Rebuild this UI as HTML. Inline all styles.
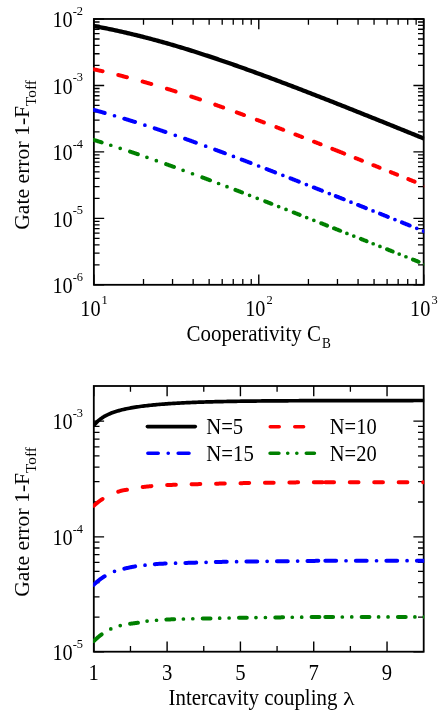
<!DOCTYPE html>
<html><head><meta charset="utf-8"><title>Gate error plots</title>
<style>
html,body{margin:0;padding:0;background:#fff;}
body{width:447px;height:716px;position:relative;overflow:hidden;font-family:"Liberation Serif",serif;}
svg text{font-family:"Liberation Serif",serif;fill:#000;}
</style></head><body>
<svg width="447" height="716" viewBox="0 0 447 716" style="position:absolute;left:0;top:0;filter:blur(0.25px)">
<rect width="447" height="716" fill="#fff"/>
<defs><clipPath id="ct"><rect x="93.17" y="18.48" width="331.03" height="266.82"/></clipPath><clipPath id="cb"><rect x="93.1" y="385.5" width="331.1" height="266.7"/></clipPath></defs>
<path d="M93.87 284.8L104.17 284.8M423.7 284.8L413.4 284.8M93.87 218.34L104.17 218.34M423.7 218.34L413.4 218.34M93.87 151.89L104.17 151.89M423.7 151.89L413.4 151.89M93.87 85.44L104.17 85.44M423.7 85.44L413.4 85.44M93.87 18.98L104.17 18.98M423.7 18.98L413.4 18.98M93.87 284.8L93.87 274.5M93.87 18.98L93.87 29.28M258.78 284.8L258.78 274.5M258.78 18.98L258.78 29.28M423.7 284.8L423.7 274.5M423.7 18.98L423.7 29.28" stroke="#000" stroke-width="1.4" fill="none"/>
<path d="M93.87 264.8L99.57 264.8M423.7 264.8L418 264.8M93.87 253.09L99.57 253.09M423.7 253.09L418 253.09M93.87 244.79L99.57 244.79M423.7 244.79L418 244.79M93.87 238.35L99.57 238.35M423.7 238.35L418 238.35M93.87 233.09L99.57 233.09M423.7 233.09L418 233.09M93.87 228.64L99.57 228.64M423.7 228.64L418 228.64M93.87 224.79L99.57 224.79M423.7 224.79L418 224.79M93.87 221.39L99.57 221.39M423.7 221.39L418 221.39M93.87 198.34L99.57 198.34M423.7 198.34L418 198.34M93.87 186.64L99.57 186.64M423.7 186.64L418 186.64M93.87 178.34L99.57 178.34M423.7 178.34L418 178.34M93.87 171.89L99.57 171.89M423.7 171.89L418 171.89M93.87 166.63L99.57 166.63M423.7 166.63L418 166.63M93.87 162.18L99.57 162.18M423.7 162.18L418 162.18M93.87 158.33L99.57 158.33M423.7 158.33L418 158.33M93.87 154.93L99.57 154.93M423.7 154.93L418 154.93M93.87 131.89L99.57 131.89M423.7 131.89L418 131.89M93.87 120.18L99.57 120.18M423.7 120.18L418 120.18M93.87 111.88L99.57 111.88M423.7 111.88L418 111.88M93.87 105.44L99.57 105.44M423.7 105.44L418 105.44M93.87 100.18L99.57 100.18M423.7 100.18L418 100.18M93.87 95.73L99.57 95.73M423.7 95.73L418 95.73M93.87 91.88L99.57 91.88M423.7 91.88L418 91.88M93.87 88.48L99.57 88.48M423.7 88.48L418 88.48M93.87 65.43L99.57 65.43M423.7 65.43L418 65.43M93.87 53.73L99.57 53.73M423.7 53.73L418 53.73M93.87 45.43L99.57 45.43M423.7 45.43L418 45.43M93.87 38.98L99.57 38.98M423.7 38.98L418 38.98M93.87 33.72L99.57 33.72M423.7 33.72L418 33.72M93.87 29.27L99.57 29.27M423.7 29.27L418 29.27M93.87 25.42L99.57 25.42M423.7 25.42L418 25.42M93.87 22.02L99.57 22.02M423.7 22.02L418 22.02M143.51 284.8L143.51 279.1M143.51 18.98L143.51 24.68M172.55 284.8L172.55 279.1M172.55 18.98L172.55 24.68M193.16 284.8L193.16 279.1M193.16 18.98L193.16 24.68M209.14 284.8L209.14 279.1M209.14 18.98L209.14 24.68M222.2 284.8L222.2 279.1M222.2 18.98L222.2 24.68M233.24 284.8L233.24 279.1M233.24 18.98L233.24 24.68M242.8 284.8L242.8 279.1M242.8 18.98L242.8 24.68M251.24 284.8L251.24 279.1M251.24 18.98L251.24 24.68M308.43 284.8L308.43 279.1M308.43 18.98L308.43 24.68M337.47 284.8L337.47 279.1M337.47 18.98L337.47 24.68M358.07 284.8L358.07 279.1M358.07 18.98L358.07 24.68M374.06 284.8L374.06 279.1M374.06 18.98L374.06 24.68M387.11 284.8L387.11 279.1M387.11 18.98L387.11 24.68M398.15 284.8L398.15 279.1M398.15 18.98L398.15 24.68M407.72 284.8L407.72 279.1M407.72 18.98L407.72 24.68M416.15 284.8L416.15 279.1M416.15 18.98L416.15 24.68" stroke="#000" stroke-width="1.3" fill="none"/>
<rect x="93.87" y="18.98" width="329.83" height="265.82" fill="none" stroke="#000" stroke-width="1.8"/>
<path d="M93.87 139.96L94 140L94.5 140.15L95 140.3L95.5 140.46L96 140.61L96.5 140.76L97 140.92L97.5 141.07L98 141.23L98.5 141.38L99 141.54L99.5 141.69L100 141.85L100.5 142L101 142.16L101.5 142.32L101.67 142.37M130.02 151.58L130.13 151.62L130.63 151.79L131.13 151.96L131.63 152.12L132.13 152.29L132.63 152.46L133.13 152.63L133.63 152.8L134.13 152.97L134.63 153.14L135.13 153.31L135.63 153.48L136.13 153.65L136.63 153.82L137.13 153.99L137.63 154.16L137.82 154.23M166.17 164.16L166.26 164.2L166.76 164.38L167.26 164.55L167.76 164.73L168.26 164.91L168.76 165.09L169.26 165.27L169.76 165.45L170.26 165.63L170.76 165.81L171.26 165.99L171.76 166.18L172.26 166.36L172.76 166.54L173.26 166.72L173.76 166.9L173.97 166.97M202.32 177.4L202.4 177.43L202.9 177.62L203.4 177.81L203.9 177.99L204.4 178.18L204.9 178.37L205.4 178.55L205.9 178.74L206.4 178.93L206.9 179.12L207.4 179.3L207.9 179.49L208.4 179.68L208.9 179.87L209.4 180.05L209.9 180.24L210.05 180.3M235.47 189.93L235.53 189.96L236.03 190.15L236.53 190.34L237.03 190.53L237.53 190.72L238.03 190.91L238.53 191.1L239.03 191.3L239.53 191.49L240.03 191.68L240.53 191.87L241.03 192.06L241.53 192.25L242.01 192.44M265.17 201.37L265.29 201.41L265.79 201.61L266.29 201.8L266.79 201.99L267.29 202.19L267.79 202.38L268.29 202.58L268.79 202.77L269.29 202.96L269.79 203.16L270.29 203.35L270.79 203.55L271.29 203.74L271.41 203.79M293.68 212.47L293.79 212.51L294.29 212.71L294.79 212.9L295.29 213.1L295.79 213.29L296.29 213.49L296.79 213.68L297.29 213.88L297.79 214.08L298.29 214.27L298.79 214.47L299.29 214.66L299.7 214.82M321.25 223.28L321.3 223.3L321.8 223.49L322.3 223.69L322.8 223.89L323.3 224.08L323.8 224.28L324.3 224.48L324.8 224.68L325.3 224.87L325.8 225.07L326.3 225.27L326.8 225.46L327.09 225.58M334.43 228.47L334.55 228.52L335.05 228.71L335.55 228.91L336.05 229.11L336.55 229.3L337.05 229.5L337.55 229.7L338.05 229.9L338.55 230.09L339.05 230.29L339.55 230.49L340.05 230.68L340.2 230.74M360.92 238.92L360.93 238.93L361.43 239.13L361.93 239.33L362.43 239.52L362.93 239.72L363.43 239.92L363.93 240.12L364.44 240.31L364.94 240.51L365.44 240.71L365.94 240.91L366.44 241.11L366.57 241.16M387.03 249.26L387.07 249.27L387.57 249.47L388.07 249.67L388.57 249.87L389.07 250.07L389.57 250.26L390.07 250.46L390.57 250.66L391.07 250.86L391.57 251.06L392.07 251.26L392.57 251.45L392.65 251.49M412.99 259.56L413.07 259.59L413.57 259.79L414.07 259.98L414.57 260.18L415.07 260.38L415.57 260.58L416.07 260.78L416.57 260.98L417.07 261.18L417.57 261.37L418.07 261.57L418.57 261.77L418.57 261.77" fill="none" stroke="#008000" stroke-width="4.0" stroke-linecap="round" stroke-linejoin="round" clip-path="url(#ct)"/>
<path d="M110.77 145.25h0.05M120.17 148.31h0.05M146.92 157.36h0.05M156.32 160.66h0.05M183.07 170.29h0.05M192.47 173.75h0.05M218.55 183.5h0.05M226.96 186.69h0.05M249.53 195.33h0.05M257.21 198.29h0.05M278.63 206.59h0.05M286.01 209.47h0.05M306.67 217.55h0.05M313.82 220.36h0.05M333.86 228.24h0.05M346.89 233.38h0.05M353.76 236.1h0.05M373.15 243.76h0.05M379.93 246.45h0.05M399.19 254.08h0.05M405.93 256.76h0.05M425.08 264.35h0.05" fill="none" stroke="#008000" stroke-width="3.7" stroke-linecap="round" clip-path="url(#ct)"/>
<path d="M93.87 109.96L94 109.99L94.5 110.13L95 110.26L95.5 110.4L96 110.53L96.5 110.67L97 110.8L97.5 110.94L98 111.08L98.5 111.22L99 111.35L99.5 111.49L100 111.63L100.5 111.77L101 111.91L101.5 112.05L102 112.18L102.5 112.32L103 112.46L103.5 112.6L104 112.75L104.5 112.89L104.67 112.93M124.27 118.68L124.38 118.71L124.88 118.87L125.38 119.02L125.88 119.17L126.38 119.32L126.88 119.48L127.38 119.63L127.88 119.78L128.38 119.94L128.88 120.09L129.38 120.25L129.88 120.4L130.38 120.56L130.88 120.71L131.38 120.87L131.88 121.02L132.38 121.18L132.88 121.33L133.38 121.49L133.88 121.65L134.38 121.8L134.88 121.96L135.07 122.02M154.67 128.36L154.76 128.39L155.26 128.56L155.76 128.72L156.26 128.89L156.76 129.06L157.26 129.22L157.76 129.39L158.26 129.56L158.76 129.72L159.26 129.89L159.76 130.06L160.26 130.23L160.76 130.4L161.26 130.56L161.76 130.73L162.26 130.9L162.76 131.07L163.26 131.24L163.76 131.41L164.26 131.58L164.76 131.75L165.26 131.92L165.47 131.99M185.07 138.79L185.14 138.81L185.64 138.99L186.14 139.17L186.64 139.34L187.14 139.52L187.64 139.7L188.14 139.88L188.64 140.05L189.14 140.23L189.64 140.41L190.14 140.59L190.64 140.76L191.14 140.94L191.64 141.12L192.14 141.3L192.64 141.48L193.14 141.66L193.64 141.84L194.14 142.02L194.64 142.2L195.14 142.37L195.64 142.55L195.87 142.63M215.1 149.64L215.15 149.65L215.65 149.84L216.15 150.02L216.65 150.21L217.15 150.39L217.65 150.58L218.15 150.76L218.65 150.95L219.15 151.13L219.65 151.32L220.15 151.5L220.65 151.69L221.15 151.87L221.65 152.06L222.15 152.24L222.65 152.43L223.15 152.61L223.65 152.8L224.15 152.99L224.65 153.17L224.88 153.26M241.67 159.56L241.78 159.6L242.28 159.79L242.78 159.98L243.28 160.17L243.78 160.36L244.28 160.55L244.78 160.74L245.28 160.93L245.78 161.12L246.28 161.31L246.78 161.5L247.28 161.69L247.78 161.88L248.28 162.07L248.78 162.26L249.28 162.45L249.78 162.64L250.28 162.83L250.59 162.95M266.5 169.04L266.54 169.05L267.04 169.25L267.54 169.44L268.04 169.63L268.54 169.82L269.04 170.02L269.54 170.21L270.04 170.4L270.54 170.6L271.04 170.79L271.54 170.98L272.04 171.17L272.54 171.37L273.04 171.56L273.54 171.75L274.04 171.95L274.54 172.14L275.04 172.33L275.11 172.36M290.49 178.33L290.54 178.35L291.04 178.55L291.54 178.74L292.04 178.94L292.54 179.13L293.04 179.33L293.54 179.52L294.04 179.72L294.54 179.91L295.04 180.11L295.54 180.3L296.04 180.5L296.54 180.69L297.04 180.89L297.54 181.08L298.04 181.28L298.54 181.48L298.85 181.6M313.82 187.46L313.92 187.5L314.42 187.7L314.92 187.9L315.42 188.09L315.92 188.29L316.42 188.49L316.92 188.68L317.42 188.88L317.92 189.08L318.42 189.27L318.92 189.47L319.42 189.67L319.92 189.86L320.42 190.06L320.92 190.26L321.42 190.45L321.92 190.65L321.96 190.67M335.8 196.13L335.93 196.18L336.43 196.37L336.93 196.57L337.43 196.77L337.93 196.97L338.43 197.17L338.93 197.36L339.43 197.56L339.93 197.76L340.43 197.96L340.93 198.15L341.43 198.35L341.93 198.55L342.43 198.75L342.93 198.95L343.43 199.14L343.78 199.28M358.1 204.96L358.18 204.99L358.68 205.19L359.18 205.39L359.68 205.59L360.18 205.79L360.68 205.99L361.18 206.19L361.68 206.39L362.18 206.58L362.68 206.78L363.18 206.98L363.68 207.18L364.18 207.38L364.69 207.58L365.19 207.78L365.69 207.98L365.92 208.07M380.08 213.7L380.19 213.75L380.69 213.95L381.19 214.15L381.69 214.34L382.19 214.54L382.69 214.74L383.19 214.94L383.69 215.14L384.19 215.34L384.69 215.54L385.19 215.74L385.69 215.94L386.19 216.14L386.69 216.34L387.19 216.54L387.69 216.74L387.86 216.81M401.96 222.43L402.07 222.47L402.57 222.67L403.07 222.87L403.57 223.07L404.07 223.27L404.57 223.47L405.07 223.67L405.57 223.87L406.07 224.07L406.57 224.27L407.07 224.47L407.57 224.67L408.07 224.87L408.57 225.07L409.07 225.27L409.57 225.47L409.7 225.52M423.72 231.13L423.82 231.17L424.32 231.37L424.82 231.57L425.32 231.77L425.82 231.97L426.32 232.17L426.7 232.32" fill="none" stroke="#0000ff" stroke-width="4.0" stroke-linecap="round" stroke-linejoin="round" clip-path="url(#ct)"/>
<path d="M114.47 115.75h0.05M144.87 125.15h0.05M175.27 135.36h0.05M205.67 146.18h0.05M233.42 156.45h0.05M258.59 166h0.05M282.84 175.36h0.05M306.37 184.54h0.05M329.29 193.55h0.05M350.96 202.13h0.05M373.01 210.89h0.05M394.92 219.62h0.05M416.72 228.33h0.05" fill="none" stroke="#0000ff" stroke-width="3.7" stroke-linecap="round" clip-path="url(#ct)"/>
<path d="M93.87 69.34L94 69.37L94.5 69.48L95 69.59L95.5 69.69L96 69.8L96.5 69.91L97 70.03L97.5 70.14L98 70.25L98.5 70.36L99 70.47L99.5 70.58L100 70.7L100.5 70.81L101 70.92L101.5 71.04L102 71.15L102.5 71.26L102.57 71.28M118.22 75.04L118.25 75.04L118.75 75.17L119.25 75.3L119.75 75.42L120.25 75.55L120.75 75.68L121.25 75.8L121.75 75.93L122.25 76.06L122.75 76.19L123.25 76.31L123.75 76.44L124.25 76.57L124.75 76.7L125.25 76.83L125.75 76.96L126.25 77.09L126.75 77.22L126.92 77.27M142.57 81.53L142.63 81.54L143.13 81.68L143.63 81.83L144.13 81.97L144.63 82.11L145.13 82.25L145.63 82.39L146.13 82.54L146.63 82.68L147.13 82.82L147.63 82.97L148.13 83.11L148.63 83.26L149.13 83.4L149.63 83.55L150.13 83.69L150.63 83.84L151.13 83.98L151.27 84.02M166.92 88.73L167.01 88.76L167.51 88.91L168.01 89.07L168.51 89.22L169.01 89.38L169.51 89.53L170.01 89.69L170.51 89.84L171.01 90L171.51 90.16L172.01 90.31L172.51 90.47L173.01 90.63L173.51 90.79L174.01 90.94L174.51 91.1L175.01 91.26L175.51 91.42L175.62 91.45M191.27 96.54L191.39 96.58L191.89 96.75L192.39 96.91L192.89 97.08L193.39 97.25L193.89 97.41L194.39 97.58L194.89 97.75L195.39 97.92L195.89 98.08L196.39 98.25L196.89 98.42L197.39 98.59L197.9 98.76L198.4 98.93L198.9 99.1L199.4 99.27L199.9 99.43L199.97 99.46M215.24 104.72L215.27 104.74L215.77 104.91L216.27 105.09L216.77 105.26L217.27 105.44L217.77 105.61L218.27 105.79L218.78 105.97L219.28 106.14L219.78 106.32L220.28 106.5L220.78 106.67L221.28 106.85L221.78 107.03L222.28 107.2L222.78 107.38L223.15 107.51M236.74 112.4L236.78 112.41L237.28 112.59L237.78 112.78L238.28 112.96L238.78 113.14L239.28 113.32L239.78 113.5L240.28 113.69L240.78 113.87L241.28 114.05L241.78 114.24L242.28 114.42L242.78 114.6L243.28 114.79L243.78 114.97L244 115.05M256.84 119.8L256.91 119.83L257.41 120.01L257.91 120.2L258.41 120.39L258.91 120.57L259.41 120.76L259.91 120.95L260.41 121.13L260.91 121.32L261.41 121.51L261.91 121.7L262.41 121.88L262.91 122.07L263.41 122.26L263.88 122.44M276.38 127.16L276.41 127.17L276.91 127.36L277.41 127.55L277.91 127.75L278.41 127.94L278.91 128.13L279.41 128.32L279.91 128.51L280.41 128.7L280.91 128.89L281.42 129.08L281.92 129.27L282.42 129.46L282.92 129.65L283.23 129.77M295.42 134.46L295.54 134.51L296.04 134.7L296.54 134.89L297.04 135.09L297.54 135.28L298.04 135.47L298.54 135.67L299.04 135.86L299.54 136.05L300.04 136.25L300.54 136.44L301.04 136.64L301.54 136.83L302.05 137.02L302.12 137.05M314.05 141.7L314.05 141.7L314.55 141.89L315.05 142.09L315.55 142.28L316.05 142.48L316.55 142.67L317.05 142.87L317.55 143.06L318.05 143.26L318.55 143.46L319.05 143.65L319.55 143.85L320.05 144.04L320.55 144.24L320.61 144.26M332.3 148.86L332.43 148.91L332.93 149.1L333.43 149.3L333.93 149.5L334.43 149.7L334.93 149.89L335.43 150.09L335.93 150.29L336.43 150.48L336.93 150.68L337.43 150.88L337.68 150.98M337.8 151.03L337.93 151.08L338.43 151.27L338.93 151.47L339.43 151.67L339.93 151.87L340.43 152.06L340.93 152.26L341.43 152.46L341.93 152.66L342.43 152.86L342.93 153.05L343.43 153.25L343.93 153.45L344.22 153.56M355.66 158.1L355.68 158.11L356.18 158.31L356.68 158.51L357.18 158.71L357.68 158.91L358.18 159.1L358.68 159.3L359.18 159.5L359.68 159.7L360.18 159.9L360.68 160.1L361.18 160.3L361.68 160.5L361.98 160.61M373.3 165.13L373.31 165.13L373.81 165.33L374.31 165.53L374.81 165.73L375.31 165.93L375.81 166.13L376.31 166.33L376.81 166.53L377.31 166.73L377.81 166.93L378.31 167.13L378.81 167.33L379.31 167.53L379.58 167.64M390.85 172.15L390.94 172.19L391.44 172.39L391.94 172.59L392.44 172.79L392.94 172.99L393.44 173.19L393.94 173.39L394.44 173.59L394.94 173.79L395.44 173.99L395.94 174.19L396.44 174.39L396.94 174.59L397.11 174.66M408.34 179.17L408.45 179.21L408.95 179.41L409.45 179.61L409.95 179.82L410.45 180.02L410.95 180.22L411.45 180.42L411.95 180.62L412.45 180.82L412.95 181.02L413.45 181.22L413.95 181.42L414.45 181.63L414.57 181.68M425.76 186.18L425.82 186.21L426.32 186.41L426.7 186.56" fill="none" stroke="#ff0000" stroke-width="4.0" stroke-linecap="round" stroke-linejoin="round" clip-path="url(#ct)"/>
<path d="M92.87 25.83L94.37 26.11L95.87 26.39L97.37 26.68L98.88 26.96L100.38 27.26L101.88 27.55L103.38 27.85L104.88 28.15L106.38 28.45L107.88 28.76L109.39 29.07L110.89 29.38L112.39 29.7L113.89 30.02L115.39 30.34L116.89 30.67L118.4 31L119.9 31.33L121.4 31.67L122.9 32L124.4 32.35L125.9 32.69L127.4 33.04L128.91 33.39L130.41 33.75L131.91 34.11L133.41 34.47L134.91 34.83L136.41 35.2L137.91 35.57L139.42 35.94L140.92 36.32L142.42 36.7L143.92 37.08L145.42 37.47L146.92 37.86L148.43 38.25L149.93 38.65L151.43 39.04L152.93 39.45L154.43 39.85L155.93 40.26L157.43 40.67L158.94 41.08L160.44 41.49L161.94 41.91L163.44 42.33L164.94 42.76L166.44 43.18L167.94 43.61L169.45 44.04L170.95 44.48L172.45 44.92L173.95 45.36L175.45 45.8L176.95 46.25L178.46 46.69L179.96 47.14L181.46 47.6L182.96 48.05L184.46 48.51L185.96 48.97L187.46 49.43L188.97 49.9L190.47 50.37L191.97 50.84L193.47 51.31L194.97 51.78L196.47 52.26L197.97 52.74L199.48 53.22L200.98 53.7L202.48 54.19L203.98 54.68L205.48 55.17L206.98 55.66L208.48 56.15L209.99 56.65L211.49 57.15L212.99 57.65L214.49 58.15L215.99 58.66L217.49 59.16L219 59.67L220.5 60.18L222 60.69L223.5 61.2L225 61.72L226.5 62.24L228 62.76L229.51 63.28L231.01 63.8L232.51 64.32L234.01 64.85L235.51 65.37L237.01 65.9L238.51 66.43L240.02 66.97L241.52 67.5L243.02 68.03L244.52 68.57L246.02 69.11L247.52 69.65L249.03 70.19L250.53 70.73L252.03 71.27L253.53 71.82L255.03 72.36L256.53 72.91L258.03 73.46L259.54 74.01L261.04 74.56L262.54 75.11L264.04 75.67L265.54 76.22L267.04 76.78L268.54 77.33L270.05 77.89L271.55 78.45L273.05 79.01L274.55 79.57L276.05 80.13L277.55 80.7L279.06 81.26L280.56 81.83L282.06 82.39L283.56 82.96L285.06 83.53L286.56 84.1L288.06 84.67L289.57 85.24L291.07 85.81L292.57 86.38L294.07 86.96L295.57 87.53L297.07 88.11L298.57 88.68L300.08 89.26L301.58 89.84L303.08 90.42L304.58 91L306.08 91.58L307.58 92.16L309.09 92.74L310.59 93.32L312.09 93.9L313.59 94.49L315.09 95.07L316.59 95.65L318.09 96.24L319.6 96.82L321.1 97.41L322.6 98L324.1 98.59L325.6 99.17L327.1 99.76L328.6 100.35L330.11 100.94L331.61 101.53L333.11 102.12L334.61 102.71L336.11 103.31L337.61 103.9L339.11 104.49L340.62 105.09L342.12 105.68L343.62 106.27L345.12 106.87L346.62 107.46L348.12 108.06L349.63 108.65L351.13 109.25L352.63 109.85L354.13 110.45L355.63 111.04L357.13 111.64L358.63 112.24L360.14 112.84L361.64 113.44L363.14 114.04L364.64 114.64L366.14 115.24L367.64 115.84L369.14 116.44L370.65 117.04L372.15 117.64L373.65 118.24L375.15 118.84L376.65 119.45L378.15 120.05L379.66 120.65L381.16 121.25L382.66 121.86L384.16 122.46L385.66 123.07L387.16 123.67L388.66 124.27L390.17 124.88L391.67 125.48L393.17 126.09L394.67 126.7L396.17 127.3L397.67 127.91L399.17 128.51L400.68 129.12L402.18 129.73L403.68 130.33L405.18 130.94L406.68 131.55L408.18 132.15L409.69 132.76L411.19 133.37L412.69 133.98L414.19 134.58L415.69 135.19L417.19 135.8L418.69 136.41L420.2 137.02L421.7 137.63L423.2 138.24L424.7 138.85" fill="none" stroke="#000000" stroke-width="4.3" stroke-linejoin="round" clip-path="url(#ct)"/>
<text transform="translate(52.4,293.15) scale(0.905,1)" font-size="22.4" text-anchor="start">10</text>
<text transform="translate(72.7,280.65) scale(0.95,1)" font-size="13.1" text-anchor="start">-6</text>
<text transform="translate(52.4,226.69) scale(0.905,1)" font-size="22.4" text-anchor="start">10</text>
<text transform="translate(72.7,214.19) scale(0.95,1)" font-size="13.1" text-anchor="start">-5</text>
<text transform="translate(52.4,160.24) scale(0.905,1)" font-size="22.4" text-anchor="start">10</text>
<text transform="translate(72.7,147.74) scale(0.95,1)" font-size="13.1" text-anchor="start">-4</text>
<text transform="translate(52.4,93.78) scale(0.905,1)" font-size="22.4" text-anchor="start">10</text>
<text transform="translate(72.7,81.28) scale(0.95,1)" font-size="13.1" text-anchor="start">-3</text>
<text transform="translate(52.4,27.33) scale(0.905,1)" font-size="22.4" text-anchor="start">10</text>
<text transform="translate(72.7,14.83) scale(0.95,1)" font-size="13.1" text-anchor="start">-2</text>
<text transform="translate(80.27,316.2) scale(0.905,1)" font-size="22.4" text-anchor="start">10</text>
<text transform="translate(101.57,304.4) scale(0.95,1)" font-size="13.1" text-anchor="start">1</text>
<text transform="translate(245.18,316.2) scale(0.905,1)" font-size="22.4" text-anchor="start">10</text>
<text transform="translate(266.48,304.4) scale(0.95,1)" font-size="13.1" text-anchor="start">2</text>
<text transform="translate(410.1,316.2) scale(0.905,1)" font-size="22.4" text-anchor="start">10</text>
<text transform="translate(431.4,304.4) scale(0.95,1)" font-size="13.1" text-anchor="start">3</text>
<text transform="translate(186.5,340.6) scale(0.944,1)" font-size="22.2" text-anchor="start">Cooperativity C</text>
<text transform="translate(322,347.8) scale(0.95,1)" font-size="14.0" text-anchor="start">B</text>
<text transform="translate(28.5,229.8) rotate(-90) scale(0.986,1)" font-size="22.0" text-anchor="start">Gate error 1-F</text>
<text transform="translate(36.3,105.9) rotate(-90) scale(1.0,1)" font-size="15.2" text-anchor="start">Toff</text>
<path d="M93.8 651.7L104.1 651.7M423.7 651.7L413.4 651.7M93.8 536.85L104.1 536.85M423.7 536.85L413.4 536.85M93.8 421.1L104.1 421.1M423.7 421.1L413.4 421.1M93.8 651.7L93.8 641.4M93.8 386L93.8 396.3M167.11 651.7L167.11 641.4M167.11 386L167.11 396.3M240.42 651.7L240.42 641.4M240.42 386L240.42 396.3M313.73 651.7L313.73 641.4M313.73 386L313.73 396.3M387.04 651.7L387.04 641.4M387.04 386L387.04 396.3" stroke="#000" stroke-width="1.4" fill="none"/>
<path d="M93.8 617.13L99.5 617.13M423.7 617.13L418 617.13M93.8 596.9L99.5 596.9M423.7 596.9L418 596.9M93.8 582.55L99.5 582.55M423.7 582.55L418 582.55M93.8 571.42L99.5 571.42M423.7 571.42L418 571.42M93.8 562.33L99.5 562.33M423.7 562.33L418 562.33M93.8 554.64L99.5 554.64M423.7 554.64L418 554.64M93.8 547.98L99.5 547.98M423.7 547.98L418 547.98M93.8 542.11L99.5 542.11M423.7 542.11L418 542.11M93.8 502.01L99.5 502.01M423.7 502.01L418 502.01M93.8 481.62L99.5 481.62M423.7 481.62L418 481.62M93.8 467.16L99.5 467.16M423.7 467.16L418 467.16M93.8 455.94L99.5 455.94M423.7 455.94L418 455.94M93.8 446.78L99.5 446.78M423.7 446.78L418 446.78M93.8 439.03L99.5 439.03M423.7 439.03L418 439.03M93.8 432.32L99.5 432.32M423.7 432.32L418 432.32M93.8 426.4L99.5 426.4M423.7 426.4L418 426.4M130.46 651.7L130.46 646M130.46 386L130.46 391.7M203.77 651.7L203.77 646M203.77 386L203.77 391.7M277.08 651.7L277.08 646M277.08 386L277.08 391.7M350.39 651.7L350.39 646M350.39 386L350.39 391.7" stroke="#000" stroke-width="1.3" fill="none"/>
<rect x="93.8" y="386" width="329.9" height="265.7" fill="none" stroke="#000" stroke-width="1.8"/>
<path d="M93.8 641L93.93 640.89L94.43 640.44L94.93 639.99L95.43 639.55L95.93 639.11L96.43 638.67L96.93 638.22L97.43 637.78L97.93 637.33L98.43 636.9L98.93 636.47L99.43 636.06L99.93 635.67L100.43 635.28L100.93 634.91L101.43 634.54L101.63 634.4M130.09 623.79L130.18 623.78L130.68 623.71L131.18 623.64L131.68 623.57L132.18 623.5L132.68 623.43L133.18 623.37L133.68 623.3L134.18 623.24L134.68 623.17L135.18 623.1L135.68 623.04L136.18 622.97L136.68 622.9L137.18 622.83L137.68 622.75L137.93 622.72M166.39 619.58L166.43 619.57L166.93 619.55L167.43 619.52L167.93 619.49L168.43 619.47L168.93 619.44L169.43 619.42L169.93 619.4L170.43 619.38L170.93 619.36L171.43 619.35L171.93 619.33L172.43 619.31L172.93 619.29L173.43 619.27L173.93 619.26L174.22 619.25M202.68 618.57L202.81 618.57L203.31 618.56L203.81 618.54L204.31 618.53L204.81 618.52L205.31 618.51L205.81 618.5L206.31 618.49L206.81 618.48L207.31 618.47L207.81 618.46L208.31 618.45L208.81 618.44L209.31 618.43L209.81 618.41L210.31 618.4L210.51 618.4M238.98 617.84L239.06 617.84L239.56 617.84L240.06 617.83L240.56 617.82L241.06 617.81L241.56 617.81L242.06 617.8L242.56 617.79L243.06 617.79L243.56 617.78L244.06 617.77L244.56 617.76L245.06 617.76L245.56 617.75L246.06 617.74L246.56 617.74L246.81 617.74M275.27 617.43L275.31 617.43L275.81 617.42L276.31 617.42L276.81 617.41L277.31 617.41L277.81 617.41L278.31 617.4L278.81 617.4L279.31 617.39L279.81 617.39L280.31 617.38L280.81 617.38L281.31 617.37L281.81 617.37L282.31 617.36L282.81 617.36L283.1 617.36M311.57 617.09L311.69 617.09L312.19 617.09L312.69 617.08L313.19 617.08L313.69 617.08L314.19 617.07L314.69 617.07L315.19 617.07L315.69 617.06L316.19 617.06L316.69 617.06L317.19 617.05L317.69 617.05L318.19 617.05L318.69 617.05L319.19 617.04L319.4 617.04M325.32 617.01L325.44 617.01L325.94 617.01L326.44 617.01L326.94 617.01L327.44 617.01L327.94 617L328.44 617L328.94 617L329.44 617L329.94 617L330.44 617L330.94 617L331.44 617L331.94 617L332.44 617L332.94 616.99L333.15 616.99M361.61 616.95L361.7 616.95L362.2 616.94L362.7 616.94L363.2 616.94L363.7 616.94L364.2 616.94L364.7 616.94L365.2 616.94L365.7 616.94L366.2 616.94L366.7 616.94L367.2 616.94L367.7 616.94L368.2 616.94L368.7 616.94L369.2 616.94L369.44 616.93M397.91 616.91L397.95 616.91L398.45 616.91L398.95 616.91L399.45 616.91L399.95 616.91L400.45 616.91L400.95 616.91L401.45 616.91L401.95 616.91L402.45 616.91L402.95 616.91L403.45 616.91L403.95 616.9L404.45 616.9L404.95 616.9L405.45 616.9L405.74 616.9" fill="none" stroke="#008000" stroke-width="4.0" stroke-linecap="round" stroke-linejoin="round" clip-path="url(#cb)"/>
<path d="M110.77 628.97h0.05M120.21 625.6h0.05M147.06 621.06h0.05M156.5 620.27h0.05M183.36 618.98h0.05M192.79 618.77h0.05M219.65 618.2h0.05M229.09 618.01h0.05M255.95 617.62h0.05M265.38 617.52h0.05M292.24 617.27h0.05M301.68 617.18h0.05M342.28 616.98h0.05M351.72 616.96h0.05M378.58 616.92h0.05M388.02 616.92h0.05M414.87 616.9h0.05M424.31 616.9h0.05" fill="none" stroke="#008000" stroke-width="3.7" stroke-linecap="round" clip-path="url(#cb)"/>
<path d="M93.8 584.7L93.93 584.58L94.43 584.11L94.93 583.64L95.43 583.18L95.93 582.73L96.43 582.29L96.93 581.86L97.43 581.44L97.93 581.02L98.43 580.62L98.93 580.22L99.43 579.83L99.93 579.45L100.43 579.09L100.93 578.73L101.43 578.38L101.93 578.03L102.43 577.68L102.93 577.35L103.43 577.01L103.93 576.69L104.43 576.37L104.64 576.24M124.32 568.66L124.43 568.64L124.93 568.52L125.43 568.4L125.93 568.29L126.43 568.17L126.93 568.05L127.43 567.94L127.93 567.83L128.43 567.72L128.93 567.61L129.43 567.5L129.93 567.39L130.43 567.29L130.93 567.18L131.43 567.08L131.93 566.98L132.43 566.88L132.93 566.79L133.43 566.7L133.93 566.6L134.43 566.52L134.93 566.43L135.16 566.39M154.84 564.19L154.93 564.18L155.43 564.14L155.93 564.09L156.43 564.04L156.93 564L157.43 563.96L157.93 563.92L158.43 563.88L158.93 563.85L159.43 563.82L159.93 563.79L160.43 563.77L160.93 563.74L161.43 563.72L161.93 563.69L162.43 563.67L162.93 563.65L163.43 563.63L163.93 563.6L164.43 563.58L164.93 563.56L165.43 563.54L165.69 563.53M185.36 562.94L185.43 562.94L185.93 562.92L186.43 562.91L186.93 562.9L187.43 562.88L187.93 562.87L188.43 562.85L188.93 562.84L189.43 562.82L189.93 562.81L190.43 562.79L190.93 562.78L191.43 562.76L191.93 562.75L192.43 562.73L192.93 562.71L193.43 562.7L193.93 562.68L194.43 562.66L194.93 562.65L195.43 562.63L195.93 562.62L196.21 562.61M215.89 562.01L215.93 562L216.43 561.99L216.93 561.98L217.43 561.97L217.93 561.96L218.43 561.95L218.93 561.94L219.43 561.93L219.93 561.92L220.43 561.91L220.93 561.9L221.43 561.89L221.93 561.88L222.43 561.87L222.93 561.86L223.43 561.85L223.93 561.84L224.43 561.84L224.93 561.83L225.43 561.82L225.93 561.81L226.43 561.8L226.73 561.8M246.41 561.55L246.44 561.55L246.94 561.54L247.44 561.54L247.94 561.53L248.44 561.52L248.94 561.52L249.44 561.51L249.94 561.51L250.44 561.5L250.94 561.5L251.44 561.49L251.94 561.48L252.44 561.48L252.94 561.47L253.44 561.47L253.94 561.46L254.44 561.46L254.94 561.45L255.44 561.45L255.94 561.44L256.44 561.44L256.94 561.43L257.25 561.43M276.93 561.24L276.94 561.24L277.44 561.23L277.94 561.23L278.44 561.22L278.94 561.22L279.44 561.21L279.94 561.21L280.44 561.21L280.94 561.2L281.44 561.2L281.94 561.19L282.44 561.19L282.94 561.18L283.44 561.18L283.94 561.17L284.44 561.17L284.94 561.16L285.44 561.16L285.94 561.15L286.44 561.15L286.94 561.14L287.44 561.14L287.77 561.14M307.45 560.94L307.57 560.94L308.07 560.93L308.57 560.93L309.07 560.92L309.57 560.92L310.07 560.92L310.57 560.91L311.07 560.91L311.57 560.9L312.07 560.9L312.57 560.89L313.07 560.89L313.57 560.89L314.07 560.88L314.57 560.88L315.07 560.88L315.57 560.87L316.07 560.87L316.57 560.86L317.07 560.86L317.57 560.86L318.07 560.85L318.29 560.85M325.32 560.81L325.44 560.81L325.94 560.81L326.44 560.81L326.94 560.81L327.44 560.81L327.94 560.81L328.44 560.8L328.94 560.8L329.44 560.8L329.94 560.8L330.44 560.8L330.94 560.8L331.44 560.8L331.94 560.8L332.44 560.8L332.94 560.79L333.44 560.79L333.94 560.79L334.44 560.79L334.94 560.79L335.44 560.79L335.94 560.79L336.16 560.79M355.84 560.75L355.94 560.75L356.44 560.75L356.94 560.75L357.44 560.75L357.94 560.75L358.44 560.75L358.94 560.75L359.44 560.75L359.94 560.75L360.45 560.75L360.95 560.75L361.45 560.75L361.95 560.74L362.45 560.74L362.95 560.74L363.45 560.74L363.95 560.74L364.45 560.74L364.95 560.74L365.45 560.74L365.95 560.74L366.45 560.74L366.68 560.74M386.36 560.72L386.45 560.72L386.95 560.72L387.45 560.72L387.95 560.72L388.45 560.71L388.95 560.71L389.45 560.71L389.95 560.71L390.45 560.71L390.95 560.71L391.45 560.71L391.95 560.71L392.45 560.71L392.95 560.71L393.45 560.71L393.95 560.71L394.45 560.71L394.95 560.71L395.45 560.71L395.95 560.71L396.45 560.71L396.95 560.71L397.2 560.71M416.88 560.7L416.95 560.7L417.45 560.7L417.95 560.7L418.45 560.7L418.95 560.7L419.45 560.7L419.95 560.7L420.45 560.7L420.95 560.7L421.45 560.7L421.95 560.7L422.45 560.7L422.95 560.7L423.45 560.7L423.95 560.7L424.45 560.7L424.95 560.7L425.45 560.7L425.95 560.7L426.45 560.7L426.7 560.7" fill="none" stroke="#0000ff" stroke-width="4.0" stroke-linecap="round" stroke-linejoin="round" clip-path="url(#cb)"/>
<path d="M114.48 571.34h0.05M145 565.15h0.05M175.53 563.21h0.05M206.05 562.28h0.05M236.57 561.66h0.05M267.09 561.33h0.05M297.61 561.04h0.05M346 560.77h0.05M376.52 560.73h0.05M407.04 560.7h0.05" fill="none" stroke="#0000ff" stroke-width="3.7" stroke-linecap="round" clip-path="url(#cb)"/>
<path d="M93.8 505.7L93.93 505.59L94.43 505.15L94.93 504.72L95.43 504.29L95.93 503.87L96.43 503.46L96.93 503.05L97.43 502.66L97.93 502.27L98.43 501.88L98.93 501.5L99.43 501.12L99.93 500.75L100.43 500.39L100.93 500.05L101.43 499.71L101.93 499.39L102.43 499.07L102.53 499M118.25 491.72L118.3 491.7L118.8 491.53L119.3 491.37L119.8 491.2L120.3 491.04L120.8 490.89L121.3 490.74L121.8 490.61L122.3 490.49L122.8 490.38L123.3 490.29L123.8 490.2L124.3 490.12L124.8 490.05L125.3 489.98L125.8 489.91L126.3 489.85L126.8 489.78L126.98 489.76M142.69 487.06L142.8 487.05L143.3 486.99L143.8 486.93L144.3 486.87L144.8 486.81L145.3 486.75L145.8 486.69L146.3 486.63L146.8 486.58L147.3 486.53L147.8 486.47L148.3 486.42L148.8 486.37L149.3 486.32L149.8 486.28L150.3 486.23L150.8 486.18L151.3 486.14L151.43 486.13M167.14 485.1L167.18 485.1L167.68 485.07L168.18 485.05L168.68 485.02L169.18 485L169.68 484.98L170.18 484.96L170.68 484.94L171.18 484.92L171.68 484.9L172.18 484.88L172.68 484.86L173.18 484.84L173.68 484.82L174.18 484.8L174.68 484.79L175.18 484.77L175.68 484.75L175.88 484.74M191.59 484.31L191.68 484.3L192.18 484.29L192.68 484.28L193.18 484.27L193.68 484.25L194.18 484.24L194.68 484.23L195.18 484.21L195.68 484.2L196.18 484.19L196.68 484.17L197.18 484.16L197.68 484.15L198.18 484.13L198.68 484.12L199.18 484.11L199.68 484.09L200.18 484.08L200.32 484.08M216.04 483.69L216.06 483.69L216.56 483.68L217.06 483.67L217.56 483.66L218.06 483.64L218.56 483.63L219.06 483.62L219.56 483.61L220.06 483.6L220.56 483.59L221.06 483.58L221.56 483.57L222.06 483.55L222.56 483.54L223.06 483.53L223.56 483.52L224.06 483.51L224.56 483.5L224.77 483.49M240.48 483.17L240.56 483.17L241.06 483.16L241.56 483.15L242.06 483.14L242.56 483.13L243.06 483.12L243.56 483.12L244.06 483.11L244.56 483.1L245.06 483.09L245.56 483.08L246.06 483.07L246.56 483.06L247.06 483.05L247.56 483.04L248.06 483.03L248.56 483.02L249.06 483.02L249.22 483.01M264.93 482.75L264.94 482.75L265.44 482.75L265.94 482.74L266.44 482.73L266.94 482.72L267.44 482.72L267.94 482.71L268.44 482.7L268.94 482.7L269.44 482.69L269.94 482.68L270.44 482.67L270.94 482.67L271.44 482.66L271.94 482.65L272.44 482.65L272.94 482.64L273.44 482.63L273.67 482.63M289.38 482.43L289.44 482.43L289.94 482.42L290.44 482.42L290.94 482.42L291.44 482.41L291.94 482.41L292.44 482.4L292.94 482.4L293.44 482.4L293.94 482.39L294.44 482.39L294.94 482.38L295.44 482.38L295.94 482.38L296.44 482.37L296.94 482.37L297.44 482.36L297.94 482.36L298.11 482.36M313.83 482.25L313.94 482.25L314.44 482.25L314.94 482.24L315.44 482.24L315.94 482.24L316.44 482.24L316.94 482.23L317.44 482.23L317.94 482.23L318.44 482.23L318.94 482.22L319.44 482.22L319.94 482.22L320.44 482.22L320.94 482.22L321.44 482.22L321.94 482.21L322.44 482.21L322.56 482.21M325.32 482.2L325.44 482.2L325.94 482.2L326.44 482.2L326.94 482.2L327.44 482.2L327.94 482.2L328.44 482.2L328.94 482.2L329.44 482.2L329.94 482.2L330.44 482.2L330.94 482.2L331.44 482.2L331.94 482.2L332.44 482.2L332.94 482.2L333.44 482.2L333.94 482.2L334.05 482.2M349.76 482.2L349.82 482.2L350.32 482.2L350.82 482.2L351.32 482.2L351.82 482.2L352.32 482.2L352.82 482.2L353.32 482.2L353.82 482.2L354.32 482.2L354.82 482.2L355.32 482.2L355.82 482.2L356.32 482.2L356.82 482.2L357.32 482.2L357.82 482.2L358.32 482.2L358.5 482.2M374.21 482.2L374.32 482.2L374.82 482.2L375.32 482.2L375.82 482.2L376.32 482.2L376.82 482.2L377.32 482.2L377.82 482.2L378.32 482.2L378.82 482.2L379.32 482.2L379.82 482.2L380.32 482.2L380.82 482.2L381.32 482.2L381.82 482.2L382.32 482.2L382.82 482.2L382.95 482.2M398.66 482.2L398.7 482.2L399.2 482.2L399.7 482.2L400.2 482.2L400.7 482.2L401.2 482.2L401.7 482.2L402.2 482.2L402.7 482.2L403.2 482.2L403.7 482.2L404.2 482.2L404.7 482.2L405.2 482.2L405.7 482.2L406.2 482.2L406.7 482.2L407.2 482.2L407.39 482.2M423.11 482.2L423.2 482.2L423.7 482.2L424.2 482.2L424.7 482.2L425.2 482.2L425.7 482.2L426.2 482.2L426.7 482.2" fill="none" stroke="#ff0000" stroke-width="4.0" stroke-linecap="round" stroke-linejoin="round" clip-path="url(#cb)"/>
<path d="M93.3 425.63L94.81 424.36L96.31 422.67L97.82 421.18L99.33 419.87L100.83 418.7L102.34 417.65L103.84 416.7L105.35 415.85L106.86 415.06L108.36 414.35L109.87 413.69L111.38 413.08L112.88 412.51L114.39 411.99L115.9 411.5L117.4 411.04L118.91 410.61L120.41 410.2L121.92 409.82L123.43 409.46L124.93 409.12L126.44 408.8L127.95 408.49L129.45 408.2L130.96 407.92L132.47 407.65L133.97 407.4L135.48 407.16L136.98 406.93L138.49 406.71L140 406.5L141.5 406.29L143.01 406.1L144.52 405.91L146.02 405.73L147.53 405.56L149.04 405.39L150.54 405.23L152.05 405.08L153.55 404.93L155.06 404.79L156.57 404.65L158.07 404.51L159.58 404.39L161.09 404.26L162.59 404.14L164.1 404.03L165.61 403.91L167.11 403.81L168.62 403.7L170.12 403.6L171.63 403.5L173.14 403.41L174.64 403.32L176.15 403.23L177.66 403.15L179.16 403.06L180.67 402.98L182.18 402.91L183.68 402.83L185.19 402.76L186.69 402.69L188.2 402.62L189.71 402.56L191.21 402.49L192.72 402.43L194.23 402.37L195.73 402.32L197.24 402.26L198.75 402.21L200.25 402.15L201.76 402.1L203.26 402.05L204.77 402.01L206.28 401.96L207.78 401.92L209.29 401.87L210.8 401.83L212.3 401.79L213.81 401.75L215.32 401.71L216.82 401.68L218.33 401.64L219.83 401.61L221.34 401.57L222.85 401.54L224.35 401.51L225.86 401.48L227.37 401.45L228.87 401.42L230.38 401.39L231.89 401.36L233.39 401.34L234.9 401.31L236.4 401.29L237.91 401.27L239.42 401.24L240.92 401.22L242.43 401.2L243.94 401.18L245.44 401.16L246.95 401.14L248.46 401.12L249.96 401.1L251.47 401.08L252.97 401.06L254.48 401.05L255.99 401.03L257.49 401.02L259 401L260.51 400.98L262.01 400.97L263.52 400.96L265.03 400.94L266.53 400.93L268.04 400.92L269.54 400.9L271.05 400.89L272.56 400.88L274.06 400.87L275.57 400.86L277.08 400.85L278.58 400.84L280.09 400.83L281.6 400.82L283.1 400.81L284.61 400.8L286.11 400.79L287.62 400.78L289.13 400.77L290.63 400.77L292.14 400.76L293.65 400.75L295.15 400.74L296.66 400.74L298.17 400.73L299.67 400.72L301.18 400.72L302.68 400.71L304.19 400.7L305.7 400.7L307.2 400.69L308.71 400.69L310.22 400.68L311.72 400.68L313.23 400.67L314.74 400.67L316.24 400.66L317.75 400.66L319.25 400.65L320.76 400.65L322.27 400.64L323.77 400.64L325.28 400.63L326.79 400.63L328.29 400.63L329.8 400.62L331.31 400.62L332.81 400.62L334.32 400.61L335.82 400.61L337.33 400.61L338.84 400.6L340.34 400.6L341.85 400.6L343.36 400.59L344.86 400.59L346.37 400.59L347.88 400.59L349.38 400.58L350.89 400.58L352.39 400.58L353.9 400.58L355.41 400.58L356.91 400.57L358.42 400.57L359.93 400.57L361.43 400.57L362.94 400.57L364.45 400.56L365.95 400.56L367.46 400.56L368.96 400.56L370.47 400.56L371.98 400.55L373.48 400.55L374.99 400.55L376.5 400.55L378 400.55L379.51 400.55L381.02 400.55L382.52 400.54L384.03 400.54L385.53 400.54L387.04 400.54L388.55 400.54L390.05 400.54L391.56 400.54L393.07 400.54L394.57 400.54L396.08 400.53L397.59 400.53L399.09 400.53L400.6 400.53L402.1 400.53L403.61 400.53L405.12 400.53L406.62 400.53L408.13 400.53L409.64 400.53L411.14 400.53L412.65 400.53L414.16 400.52L415.66 400.52L417.17 400.52L418.67 400.52L420.18 400.52L421.69 400.52L423.19 400.52L424.7 400.52" fill="none" stroke="#000000" stroke-width="3.7" stroke-linejoin="round" clip-path="url(#cb)"/>
<text transform="translate(52.4,660.05) scale(0.905,1)" font-size="22.4" text-anchor="start">10</text>
<text transform="translate(72.7,647.55) scale(0.95,1)" font-size="13.1" text-anchor="start">-5</text>
<text transform="translate(52.4,545.2) scale(0.905,1)" font-size="22.4" text-anchor="start">10</text>
<text transform="translate(72.7,532.7) scale(0.95,1)" font-size="13.1" text-anchor="start">-4</text>
<text transform="translate(52.4,429.45) scale(0.905,1)" font-size="22.4" text-anchor="start">10</text>
<text transform="translate(72.7,416.95) scale(0.95,1)" font-size="13.1" text-anchor="start">-3</text>
<text transform="translate(93.8,680) scale(0.925,1)" font-size="22.4" text-anchor="middle">1</text>
<text transform="translate(167.11,680) scale(0.925,1)" font-size="22.4" text-anchor="middle">3</text>
<text transform="translate(240.42,680) scale(0.925,1)" font-size="22.4" text-anchor="middle">5</text>
<text transform="translate(313.73,680) scale(0.925,1)" font-size="22.4" text-anchor="middle">7</text>
<text transform="translate(387.04,680) scale(0.925,1)" font-size="22.4" text-anchor="middle">9</text>
<text transform="translate(168.5,704.6) scale(0.942,1)" font-size="22.2" text-anchor="start">Intercavity coupling</text>
<text transform="translate(343,704.6) scale(1.22,1)" font-size="19.7" text-anchor="start">λ</text>
<text transform="translate(28.5,596.8) rotate(-90) scale(0.986,1)" font-size="22.0" text-anchor="start">Gate error 1-F</text>
<text transform="translate(36.3,472.9) rotate(-90) scale(1.0,1)" font-size="15.2" text-anchor="start">Toff</text>
<path d="M147.4 426.6L195.3 426.6" fill="none" stroke="#000000" stroke-width="3.6" stroke-linecap="round"/>
<path d="M270.3 426.7L279.2 426.7M294.8 426.7L303.6 426.7" fill="none" stroke="#ff0000" stroke-width="3.6" stroke-linecap="round"/>
<path d="M147.9 453.3L158.2 453.3M178.2 453.3L189 453.3M168.2 453.3l0.05 0" fill="none" stroke="#0000ff" stroke-width="3.6" stroke-linecap="round"/>
<path d="M270.1 453.3L278.9 453.3M306.3 453.3L314.4 453.3M287.7 453.3l0.05 0M296.8 453.3l0.05 0" fill="none" stroke="#008000" stroke-width="3.6" stroke-linecap="round"/>
<text transform="translate(206.2,433.9) scale(0.925,1)" font-size="22.4" text-anchor="start">N=5</text>
<text transform="translate(329.8,433.9) scale(0.915,1)" font-size="22.4" text-anchor="start">N=10</text>
<text transform="translate(206.2,460.7) scale(0.93,1)" font-size="22.4" text-anchor="start">N=15</text>
<text transform="translate(329.8,460.7) scale(0.915,1)" font-size="22.4" text-anchor="start">N=20</text>
</svg>
</body></html>
